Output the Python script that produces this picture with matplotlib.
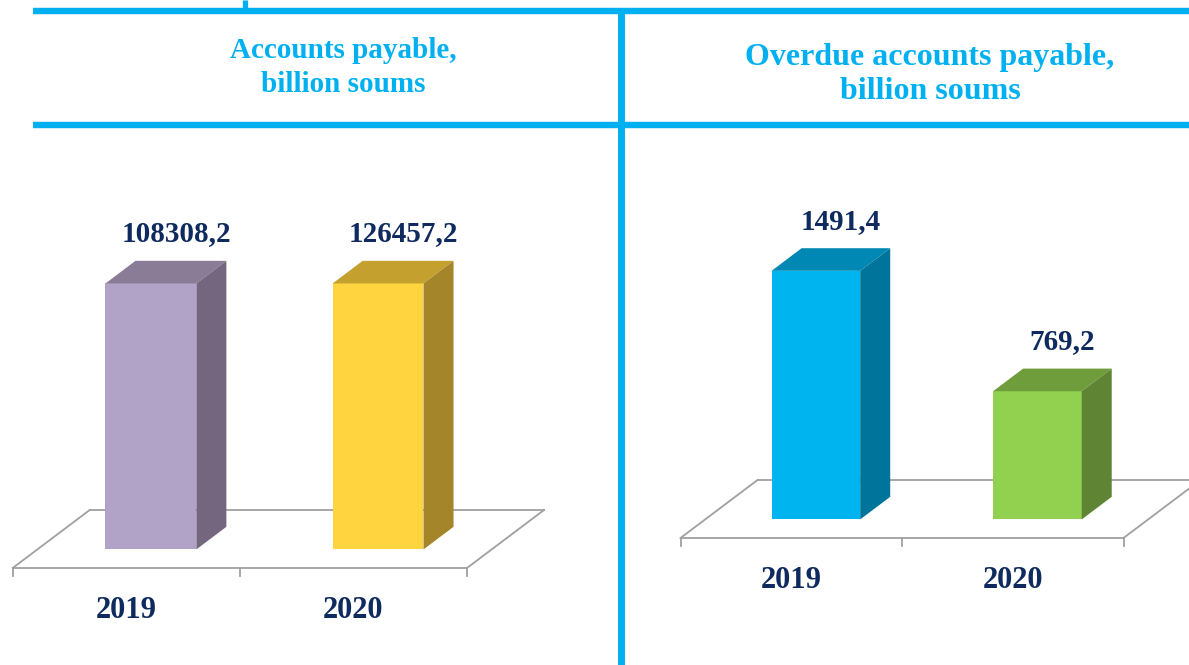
import matplotlib.pyplot as plt
from matplotlib.lines import Line2D
from matplotlib.patches import Polygon

years = ['2019', '2020']
payable = [108308.2, 126457.2]
overdue = [1491.4, 769.2]
payable_labels = ['108308,2', '126457,2']
overdue_labels = ['1491,4', '769,2']

W, H = 1189, 665
fig = plt.figure(figsize=(W / 100, H / 100), dpi=100)

cyan = '#00B0F0'
navy = '#0E2A5E'
grey = '#A0A0A0'
serif = 'Liberation Serif'


# frame lines, given in pixels from the top-left corner
def frame_line(xs, ys, lw):
    fig.add_artist(Line2D([x / W for x in xs], [1 - y / H for y in ys],
                          color=cyan, lw=lw, solid_capstyle='butt'))


frame_line([33, W], [11.3, 11.3], 4.6)
frame_line([33, W], [125, 125], 4.6)
frame_line([620.5, 620.5], [8.5, H], 5.0)
frame_line([244.5, 244.5], [0, 11], 3.8)

fig.text(343 / W, 1 - 67.5 / H, 'Accounts payable,\nbillion soums', color=cyan,
         family=serif, fontweight='bold', fontsize=21, ha='center', va='center',
         linespacing=1.36)
fig.text(930 / W, 1 - 74.5 / H, 'Overdue accounts payable,\nbillion soums', color=cyan,
         family=serif, fontweight='bold', fontsize=23, ha='center', va='center',
         linespacing=1.27)


def draw_chart(left, front_y, width, height, values, labels, colors, ymax, cap=None):
    ax = fig.add_axes([left / W, 1 - front_y / H, width / W, height / H])
    n = len(values)
    ax.set_xlim(-0.5, n - 0.5)
    ax.set_ylim(0, ymax)
    ax.axis('off')

    # depth of the 3d floor in data units
    sx = width / n
    sy = height / ymax
    fx, fy = 77 / sx, 58 / sy
    d0, d1 = 0.32, 0.71

    # floor outline
    kw = dict(color=grey, lw=1.3, clip_on=False, zorder=1)
    ax.plot([-0.5, n - 0.5], [0, 0], **kw)
    ax.plot([-0.5 + fx, n - 0.5 + fx], [fy, fy], **kw)
    ax.plot([-0.5, -0.5 + fx], [0, fy], **kw)
    ax.plot([n - 0.5, n - 0.5 + fx], [0, fy], **kw)
    for t in range(n + 1):
        ax.plot([t - 0.5, t - 0.5], [0, -8 / sy], **kw)

    bw = 0.4
    bdx, bdy = (d1 - d0) * fx, (d1 - d0) * fy
    for i, v in enumerate(values):
        h = min(v, cap) if cap else v
        front, top, side = colors[i]
        x0 = i - bw / 2 + d0 * fx
        x1 = x0 + bw
        y0 = d0 * fy
        ax.add_patch(Polygon([(x0, y0), (x1, y0), (x1, y0 + h), (x0, y0 + h)],
                             closed=True, fc=front, ec='none', clip_on=False, zorder=3))
        ax.add_patch(Polygon([(x0, y0 + h), (x1, y0 + h), (x1 + bdx, y0 + h + bdy),
                              (x0 + bdx, y0 + h + bdy)],
                             closed=True, fc=top, ec='none', clip_on=False, zorder=3))
        ax.add_patch(Polygon([(x1, y0), (x1 + bdx, y0 + bdy), (x1 + bdx, y0 + h + bdy),
                              (x1, y0 + h)],
                             closed=True, fc=side, ec='none', clip_on=False, zorder=3))
        ax.annotate(labels[i], (x0 + bw / 2 + bdx, y0 + h + bdy), xytext=(-3.6, 19.5),
                    textcoords='offset points', ha='center', va='center',
                    family=serif, fontweight='bold', fontsize=21, color=navy,
                    annotation_clip=False)
        ax.annotate(years[i], (i, 0), xytext=(0, -30.5), textcoords='offset points',
                    ha='center', va='center', family=serif, fontweight='bold',
                    fontsize=22, color=navy, annotation_clip=False)
    return ax


left_colors = [('#B1A3C7', '#8A7B97', '#75667F'), ('#FFD43F', '#C4A02F', '#A5852A')]
right_colors = [('#00B4F0', '#0088B5', '#00749A'), ('#92D050', '#6F9D3C', '#5F8434')]

# left chart: axis maximum fixed at 100000, taller bars are cut at that level
draw_chart(12.7, 568, 454.3, 372.4, payable, payable_labels, left_colors, 140000, cap=100000)
draw_chart(680.5, 538, 443, 333.4, overdue, overdue_labels, right_colors, 2000)

fig.savefig('out.png', dpi=100)
